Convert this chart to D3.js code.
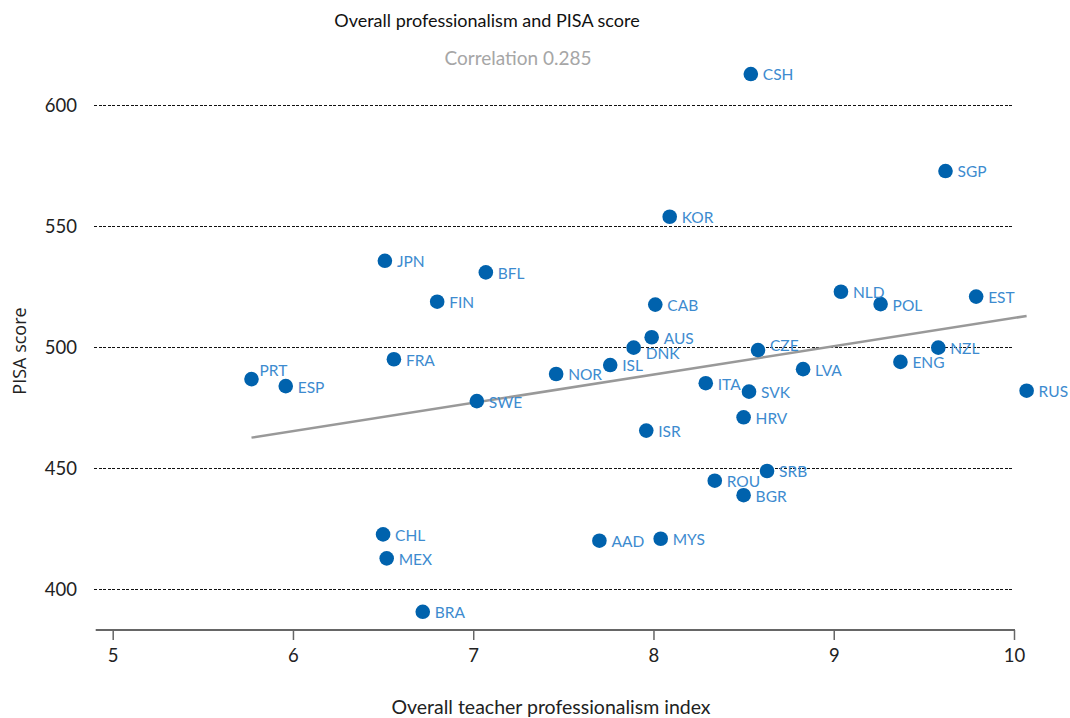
<!DOCTYPE html>
<html>
<head>
<meta charset="utf-8">
<script src="https://cdn.jsdelivr.net/npm/d3@7"></script>
<style>
    body { margin: 0; background: #fff; }
    svg text { font-family: Lato, "Open Sans", sans-serif; }
</style>
</head>
<body>
<div id="chart"></div>
<script>
// ---------------------------------- Data ----------------------------------
var countries = ["CSH", "SGP", "KOR", "JPN", "BFL", "FIN", "CAB", "NLD", "POL", "EST",
    "AUS", "DNK", "CZE", "NZL", "FRA", "ENG", "ISL", "LVA", "NOR", "PRT",
    "ESP", "ITA", "SVK", "RUS", "SWE", "HRV", "ISR", "SRB", "ROU", "BGR",
    "CHL", "MEX", "AAD", "MYS", "BRA"];
var professionalism = [8.54, 9.62, 8.09, 6.51, 7.07, 6.80, 8.01, 9.04, 9.26, 9.79,
    7.99, 7.89, 8.58, 9.58, 6.56, 9.37, 7.76, 8.83, 7.46, 5.77,
    5.96, 8.29, 8.53, 10.07, 7.02, 8.50, 7.96, 8.63, 8.34, 8.50,
    6.50, 6.52, 7.70, 8.04, 6.72];
var pisaScore = [613.0, 572.9, 554.0, 535.8, 531.0, 518.9, 517.7, 523.0, 517.9, 521.0,
    504.2, 499.9, 498.9, 499.9, 495.1, 494.0, 492.7, 491.0, 489.0, 486.9,
    484.0, 485.2, 481.7, 482.1, 477.8, 471.1, 465.6, 448.9, 444.9, 438.9,
    422.7, 412.8, 420.1, 420.9, 390.7];

// fitted line end points
var trendX = [5.77, 10.07];
var trendY = [462.7, 513.0];

var xTicks = [5, 6, 7, 8, 9, 10];
var yTicks = [400, 450, 500, 550, 600];

// labels that are not placed plainly right of the dot
var labelShift = { PRT: [8, -9], DNK: [12, 6], CZE: [12, -4] };

// ---------------------------------- Chart ----------------------------------
var width = 1070, height = 718;

var svg = d3.select("#chart")
    .append("svg")
    .attr("width", width)
    .attr("height", height);

var x = d3.scaleLinear().domain([5, 10]).range([112.7, 1014]);
var y = d3.scaleLinear().domain([400, 600]).range([589.3, 105.5]);
var axisY = 630;

// Dashed grid lines
svg.append("g")
    .selectAll("line")
    .data(yTicks)
    .enter()
    .append("line")
    .attr("x1", 94)
    .attr("x2", 1012)
    .attr("y1", function (d) { return y(d); })
    .attr("y2", function (d) { return y(d); })
    .attr("stroke", "#111")
    .attr("stroke-width", 1)
    .attr("stroke-dasharray", "3,1.6")
    .attr("shape-rendering", "crispEdges");

// Y tick labels
svg.append("g")
    .selectAll("text")
    .data(yTicks)
    .enter()
    .append("text")
    .attr("x", 77)
    .attr("y", function (d) { return y(d); })
    .attr("dy", "0.35em")
    .attr("text-anchor", "end")
    .attr("font-size", 18.5)
    .attr("fill", "#222")
    .text(function (d) { return d; });

// X axis
var xAxis = svg.append("g")
    .attr("transform", "translate(0," + axisY + ")")
    .call(d3.axisBottom(x).tickValues(xTicks).tickFormat(d3.format("d"))
        .tickSize(10).tickPadding(9).tickSizeOuter(0));
xAxis.select(".domain").attr("stroke", "#666").attr("stroke-width", 2)
    .attr("d", "M95.7,0H1015");
xAxis.selectAll(".tick line").attr("stroke", "#666").attr("stroke-width", 1.5);
xAxis.selectAll(".tick text")
    .attr("font-size", 18.5)
    .attr("fill", "#222")
    .style("font-family", "Lato, 'Open Sans', sans-serif");

// Trend line
svg.append("line")
    .attr("x1", x(trendX[0]))
    .attr("y1", y(trendY[0]))
    .attr("x2", x(trendX[1]))
    .attr("y2", y(trendY[1]))
    .attr("stroke", "#999")
    .attr("stroke-width", 2.5);

// Dots + labels
var points = countries.map(function (c, i) {
    return { name: c, px: professionalism[i], score: pisaScore[i] };
});

svg.append("g")
    .selectAll("circle")
    .data(points)
    .enter()
    .append("circle")
    .attr("cx", function (d) { return x(d.px); })
    .attr("cy", function (d) { return y(d.score); })
    .attr("r", 7.3)
    .attr("fill", "#0062ad");

svg.append("g")
    .selectAll("text")
    .data(points)
    .enter()
    .append("text")
    .attr("x", function (d) { return x(d.px) + (labelShift[d.name] ? labelShift[d.name][0] : 12); })
    .attr("y", function (d) { return y(d.score) + (labelShift[d.name] ? labelShift[d.name][1] : 1); })
    .attr("dy", "0.35em")
    .attr("font-size", 15.5)
    .attr("fill", "#3d8bcf")
    .text(function (d) { return d.name; });

// Titles
svg.append("text")
    .attr("x", 487)
    .attr("y", 21)
    .attr("dy", "0.35em")
    .attr("text-anchor", "middle")
    .attr("font-size", 18)
    .attr("fill", "#111")
    .text("Overall professionalism and PISA score");

svg.append("text")
    .attr("x", 518)
    .attr("y", 58)
    .attr("dy", "0.35em")
    .attr("text-anchor", "middle")
    .attr("font-size", 19)
    .attr("fill", "#a6a6a6")
    .text("Correlation 0.285");

svg.append("text")
    .attr("x", 551)
    .attr("y", 707)
    .attr("dy", "0.35em")
    .attr("text-anchor", "middle")
    .attr("font-size", 19.5)
    .attr("fill", "#222")
    .text("Overall teacher professionalism index");

svg.append("text")
    .attr("transform", "translate(20,351)rotate(-90)")
    .attr("dy", "0.35em")
    .attr("text-anchor", "middle")
    .attr("font-size", 18)
    .attr("fill", "#222")
    .style("font-family", "'Open Sans', sans-serif")
    .text("PISA score");
</script>
</body>
</html>
